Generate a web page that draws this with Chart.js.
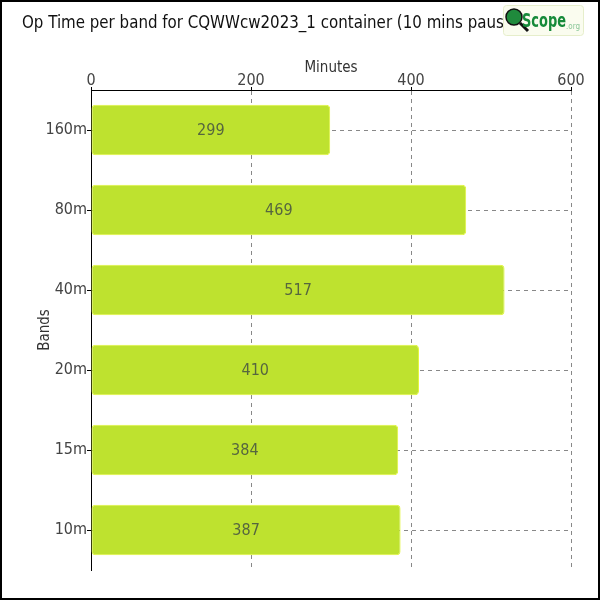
<!DOCTYPE html>
<html>
<head>
<meta charset="utf-8">
<script src="https://cdn.jsdelivr.net/npm/chart.js@4.4.1/dist/chart.umd.min.js"></script>
<style>
  body { margin: 0; background: #fff; }
  #wrap { width: 600px; height: 600px; }
</style>
</head>
<body>
<div id="wrap"><canvas id="chart" width="600" height="600"></canvas></div>
<script>
const bands = ['160m', '80m', '40m', '20m', '15m', '10m'];
const minutes = [299, 469, 517, 410, 384, 387];
const xTicks = [0, 200, 400, 600];
const chartTitle = 'Op Time per band for CQWWcw2023_1 container (10 mins pause)';

const fontFam = '"DejaVu Sans Condensed", "Roboto", sans-serif';

// values in the middle of each bar
const barValues = {
    id: 'barValues',
    afterDatasetsDraw(chart) {
        const ctx = chart.ctx;
        const meta = chart.getDatasetMeta(0);
        ctx.save();
        ctx.font = '16px ' + fontFam;
        ctx.fillStyle = '#56663f';
        ctx.textAlign = 'center';
        ctx.textBaseline = 'middle';
        meta.data.forEach((bar, i) => {
            const p = bar.getProps(['x', 'y', 'base'], true);
            ctx.fillText(String(minutes[i]), (p.x + p.base) / 2, p.y + 1);
        });
        ctx.restore();
    }
};

// title, frame round the picture and the logo in the corner
const frameLogo = {
    id: 'frameLogo',
    afterDraw(chart) {
        const ctx = chart.ctx;
        ctx.save();
        ctx.fillStyle = '#111';
        ctx.font = '18px ' + fontFam;
        ctx.textAlign = 'left';
        ctx.textBaseline = 'alphabetic';
        ctx.translate(22, 28);
        ctx.scale(0.93, 1);
        ctx.fillText(chartTitle, 0, 0);
        ctx.setTransform(1, 0, 0, 1, 0, 0);

        ctx.strokeStyle = '#000';
        ctx.lineWidth = 2;
        ctx.strokeRect(1, 1, 598, 598);

        // logo box
        ctx.fillStyle = '#fafcef';
        ctx.strokeStyle = '#e6eecb';
        ctx.lineWidth = 1;
        ctx.beginPath();
        ctx.roundRect(503.5, 5.5, 80, 30, 3);
        ctx.fill();
        ctx.stroke();

        // magnifier
        ctx.strokeStyle = '#111';
        ctx.lineWidth = 3;
        ctx.beginPath();
        ctx.moveTo(520, 23);
        ctx.lineTo(528, 31);
        ctx.stroke();
        ctx.fillStyle = '#1f8a3c';
        ctx.lineWidth = 1.5;
        ctx.beginPath();
        ctx.arc(514, 17, 8, 0, Math.PI * 2);
        ctx.fill();
        ctx.stroke();

        ctx.fillStyle = '#168a3a';
        ctx.font = 'bold 20px ' + fontFam;
        ctx.translate(522, 27);
        ctx.scale(0.72, 1);
        ctx.fillText('Scope', 0, 0);
        ctx.setTransform(1, 0, 0, 1, 0, 0);
        ctx.fillStyle = '#8cc89a';
        ctx.font = '8px ' + fontFam;
        ctx.fillText('.org', 566, 29);
        ctx.restore();
    }
};

new Chart(document.getElementById('chart'), {
    type: 'bar',
    data: {
        labels: bands,
        datasets: [{
            label: 'Minutes',
            data: minutes,
            backgroundColor: '#bee22f',
            borderColor: '#e2f53e',
            borderWidth: 1,
            borderRadius: 4,
            borderSkipped: false,
            barPercentage: 0.63,
            categoryPercentage: 1
        }]
    },
    options: {
        indexAxis: 'y',
        responsive: false,
        animation: false,
        layout: { padding: { left: 36, right: 29, top: 58, bottom: 30 } },
        plugins: {
            legend: { display: false },
            tooltip: { enabled: false },
            title: { display: false }
        },
        scales: {
            x: {
                position: 'top',
                min: 0,
                max: 600,
                afterBuildTicks: axis => { axis.ticks = xTicks.map(v => ({ value: v })); },
                afterFit: axis => { axis.height = 32; },
                title: {
                    display: true,
                    text: 'Minutes',
                    color: '#333',
                    font: { family: fontFam, size: 15, lineHeight: 1 },
                    padding: { top: 3, bottom: 0 }
                },
                ticks: {
                    color: '#444',
                    font: { family: fontFam, size: 16, lineHeight: 1 },
                    padding: -2
                },
                grid: {
                    color: '#888',
                    tickColor: '#000',
                    tickLength: 3
                },
                border: { display: true, color: '#000', width: 1, dash: [4, 4] }
            },
            y: {
                afterFit: axis => { axis.width = 55; },
                title: {
                    display: true,
                    text: 'Bands',
                    color: '#333',
                    font: { family: fontFam, size: 15 },
                    padding: { top: 0, bottom: 0 }
                },
                ticks: {
                    color: '#444',
                    font: { family: fontFam, size: 16 },
                    padding: 0
                },
                grid: {
                    offset: false,
                    color: '#888',
                    tickColor: '#000',
                    tickLength: 4
                },
                border: { display: true, color: '#000', width: 1, dash: [4, 4] }
            }
        }
    },
    plugins: [barValues, frameLogo]
});
</script>
</body>
</html>
